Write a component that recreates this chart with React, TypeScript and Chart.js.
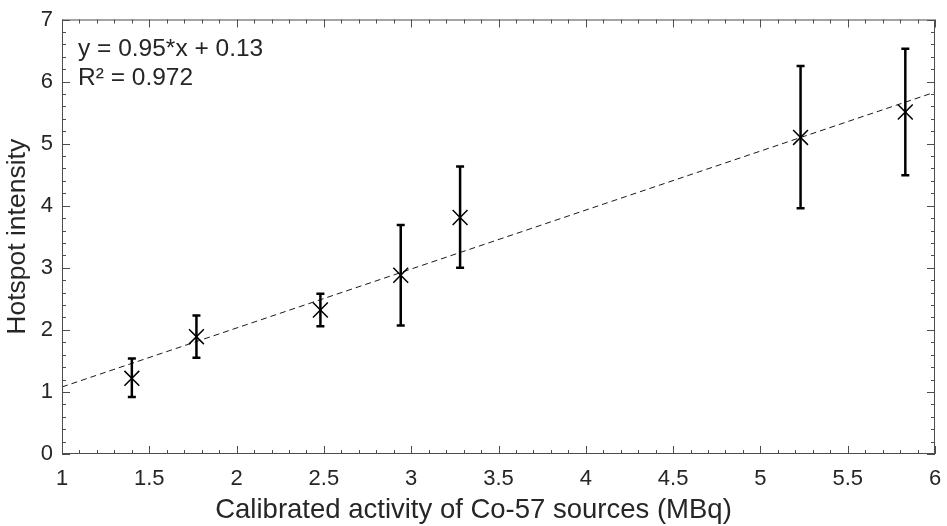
import React, { useEffect, useRef } from "react";
import { Chart, registerables } from "chart.js";

Chart.register(...registerables);

// ---- Data ----
const activity = [1.4, 1.77, 2.48, 2.94, 3.28, 5.23, 5.83];
const intensity = [1.22, 1.89, 2.32, 2.88, 3.81, 5.1, 5.51];
const errLow = [0.92, 1.55, 2.06, 2.07, 3.0, 3.96, 4.49];
const errHigh = [1.54, 2.23, 2.58, 3.69, 4.63, 6.25, 6.53];

const fitSlope = 0.95;
const fitIntercept = 0.13;
const fitRange = [1, 6];
const fitLabel = "y = 0.95*x + 0.13";
const r2Label = "R² = 0.972";

const xTitle = "Calibrated activity of Co-57 sources (MBq)";
const yTitle = "Hotspot intensity";

const X_MIN = 1;
const X_MAX = 6;
const Y_MIN = 0;
const Y_MAX = 7;

const FONT = "'Liberation Sans', Arial, Helvetica, sans-serif";
const TEXT = "#262626";
const AXIS = "#4d4d4d";

const fmt = (v: number) => String(Math.round(v * 10) / 10);

const matlabPlugin = {
  id: "matlabDecor",
  afterDatasetsDraw(chart: any) {
    const { ctx, scales } = chart;
    const xs = scales.x;
    const ys = scales.y;
    ctx.save();
    ctx.strokeStyle = "#000";
    ctx.lineWidth = 2.5;
    ctx.lineCap = "butt";
    for (let i = 0; i < activity.length; i++) {
      const px = xs.getPixelForValue(activity[i]);
      const pLo = ys.getPixelForValue(errLow[i]);
      const pHi = ys.getPixelForValue(errHigh[i]);
      ctx.beginPath();
      ctx.moveTo(px, pLo);
      ctx.lineTo(px, pHi);
      ctx.stroke();
      ctx.beginPath();
      ctx.moveTo(px - 4, pLo);
      ctx.lineTo(px + 4, pLo);
      ctx.moveTo(px - 4, pHi);
      ctx.lineTo(px + 4, pHi);
      ctx.stroke();
    }
    ctx.restore();
  },
  afterDraw(chart: any) {
    const { ctx, chartArea, scales } = chart;
    const { left, right, top, bottom } = chartArea;
    const xs = scales.x;
    const ys = scales.y;
    ctx.save();
    ctx.strokeStyle = AXIS;
    ctx.lineWidth = 1;
    // box
    ctx.strokeRect(left + 0.5, top + 0.5, right - left - 1, bottom - top - 1);
    // inward ticks, x every 0.1 (major 0.5)
    ctx.beginPath();
    for (let k = 0; k <= 50; k++) {
      const v = X_MIN + k * 0.1;
      const px = Math.round(xs.getPixelForValue(v)) + 0.5;
      const len = k % 5 === 0 ? 8 : 4;
      ctx.moveTo(px, bottom);
      ctx.lineTo(px, bottom - len);
      ctx.moveTo(px, top);
      ctx.lineTo(px, top + len);
    }
    // y every 0.2 (major 1)
    for (let k = 0; k <= 35; k++) {
      const v = Y_MIN + k * 0.2;
      const py = Math.round(ys.getPixelForValue(v)) + 0.5;
      const len = k % 5 === 0 ? 8 : 4;
      ctx.moveTo(left, py);
      ctx.lineTo(left + len, py);
      ctx.moveTo(right, py);
      ctx.lineTo(right - len, py);
    }
    ctx.stroke();

    // annotation
    ctx.fillStyle = TEXT;
    ctx.font = `24.5px ${FONT}`;
    ctx.textAlign = "left";
    ctx.textBaseline = "alphabetic";
    ctx.fillText(fitLabel, left + 16, top + 36);
    ctx.fillText(r2Label, left + 16, top + 65);

    // x axis title, centred on the figure
    ctx.font = `27.5px ${FONT}`;
    ctx.textAlign = "center";
    ctx.textBaseline = "middle";
    ctx.fillText(xTitle, chart.width / 2, 510);
    ctx.restore();
  },
};

export default function App() {
  const canvasRef = useRef<HTMLCanvasElement | null>(null);

  useEffect(() => {
    const canvas = canvasRef.current;
    if (!canvas) return;
    const points = activity.map((x, i) => ({ x, y: intensity[i] }));
    const fitPoints = fitRange.map((x) => ({ x, y: fitSlope * x + fitIntercept }));

    const chart = new Chart(canvas, {
      type: "scatter",
      data: {
        datasets: [
          {
            type: "line",
            label: "Fit",
            data: fitPoints,
            borderColor: "#1a1a1a",
            borderWidth: 1,
            borderDash: [6, 4],
            pointRadius: 0,
            fill: false,
            order: 2,
          } as any,
          {
            label: "Hotspot intensity",
            data: points,
            pointStyle: "crossRot",
            pointRadius: 10.5,
            pointHoverRadius: 10.5,
            borderColor: "#000",
            backgroundColor: "#000",
            pointBorderWidth: 1.5,
            order: 1,
          } as any,
        ],
      },
      options: {
        animation: false,
        responsive: true,
        maintainAspectRatio: false,
        devicePixelRatio: 1,
        layout: { padding: { top: 19.5, right: 9, left: 0, bottom: 0 } },
        plugins: {
          legend: { display: false },
          tooltip: { enabled: false },
        },
        scales: {
          x: {
            type: "linear",
            min: X_MIN,
            max: X_MAX,
            grid: { display: false, drawTicks: false },
            border: { display: false },
            ticks: {
              stepSize: 0.5,
              padding: 12,
              color: TEXT,
              maxRotation: 0,
              font: { family: FONT, size: 22 },
              callback: (v: any) => fmt(Number(v)),
            },
            afterFit: (s: any) => {
              s.height = 72;
              s.paddingLeft = 0;
              s.paddingRight = 0;
            },
          },
          y: {
            type: "linear",
            min: Y_MIN,
            max: Y_MAX,
            grid: { display: false, drawTicks: false },
            border: { display: false },
            ticks: {
              stepSize: 1,
              padding: 9,
              color: TEXT,
              font: { family: FONT, size: 22 },
              callback: (v: any) => fmt(Number(v)),
            },
            title: {
              display: true,
              text: yTitle,
              color: TEXT,
              font: { family: FONT, size: 26.5 },
              padding: { top: 2, bottom: 0 },
            },
            afterFit: (s: any) => {
              s.width = 62;
              s.paddingTop = 0;
              s.paddingBottom = 0;
            },
          },
        },
      },
      plugins: [matlabPlugin],
    });
    return () => chart.destroy();
  }, []);

  return (
    <div style={{ position: "fixed", left: 0, top: 0, width: 947, height: 526, background: "#fff" }}>
      <canvas ref={canvasRef} />
    </div>
  );
}
